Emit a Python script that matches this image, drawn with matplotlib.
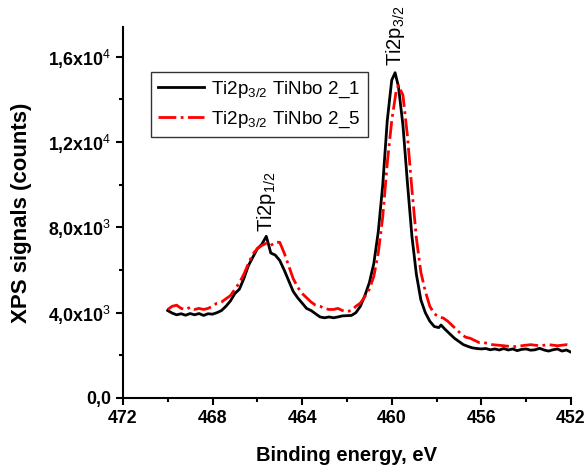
import matplotlib
matplotlib.use("Agg")
import matplotlib.pyplot as plt
from matplotlib.ticker import MultipleLocator, FixedLocator

plt.rcParams['font.family'] = ['Liberation Sans', 'DejaVu Sans']
plt.rcParams['mathtext.fontset'] = 'custom'
plt.rcParams['mathtext.rm'] = 'Liberation Sans'
plt.rcParams['mathtext.it'] = 'Liberation Sans'
plt.rcParams['mathtext.bf'] = 'Liberation Sans:bold'

# Ti2p3/2 TiNbo 2_1
energy_1 = [470.0, 469.8, 469.6, 469.4, 469.2, 469.0, 468.8, 468.6, 468.4, 468.2,
            468.0, 467.8, 467.6, 467.4, 467.2, 467.0, 466.8, 466.6, 466.4, 466.2,
            466.0, 465.8, 465.6, 465.5, 465.4, 465.2, 465.0, 464.8, 464.6, 464.4,
            464.2, 464.0, 463.8, 463.6, 463.4, 463.2, 463.0, 462.8, 462.6, 462.4,
            462.2, 462.0, 461.8, 461.6, 461.4, 461.2, 461.0, 460.8, 460.6, 460.4,
            460.2, 460.0, 459.85, 459.7, 459.5, 459.3, 459.1, 458.9, 458.7, 458.5,
            458.3, 458.1, 457.9, 457.8, 457.6, 457.4, 457.2, 457.0, 456.8, 456.6,
            456.4, 456.2, 456.0, 455.8, 455.6, 455.4, 455.2, 455.0, 454.8, 454.6,
            454.4, 454.2, 454.0, 453.8, 453.6, 453.4, 453.2, 453.0, 452.8, 452.6,
            452.4, 452.2, 452.0]
counts_1 = [4100, 3980, 3900, 3950, 3880, 3960, 3900, 3960, 3870, 3950,
            3930, 4000, 4100, 4300, 4550, 4900, 5100, 5600, 6200, 6600,
            7000, 7200, 7580, 7200, 6800, 6700, 6450, 6000, 5500, 5000,
            4700, 4450, 4200, 4100, 3950, 3800, 3760, 3800, 3760, 3800,
            3850, 3860, 3870, 4000, 4300, 4800, 5400, 6300, 7800, 10000,
            13000, 14900, 15250, 14600, 12800, 10100, 7600, 5800, 4600, 4000,
            3600, 3350, 3300, 3420, 3200, 3000, 2800, 2650, 2500, 2420,
            2350, 2320, 2300, 2320, 2260, 2300, 2250, 2320, 2250, 2300,
            2220, 2280, 2300, 2240, 2260, 2330, 2250, 2200, 2260, 2300,
            2200, 2250, 2150]

# Ti2p3/2 TiNbo 2_5
energy_5 = [470.0, 469.8, 469.6, 469.4, 469.2, 469.0, 468.8, 468.6, 468.4, 468.2,
            468.0, 467.8, 467.6, 467.4, 467.2, 467.0, 466.8, 466.6, 466.4, 466.2,
            466.0, 465.8, 465.6, 465.4, 465.2, 465.0, 464.8, 464.6, 464.4, 464.2,
            464.0, 463.8, 463.6, 463.4, 463.2, 463.0, 462.8, 462.6, 462.4, 462.2,
            462.0, 461.8, 461.6, 461.4, 461.2, 461.0, 460.8, 460.6, 460.4, 460.2,
            460.0, 459.8, 459.7, 459.5, 459.3, 459.1, 458.9, 458.7, 458.5, 458.3,
            458.1, 457.9, 457.7, 457.5, 457.3, 457.1, 456.9, 456.7, 456.5, 456.3,
            456.1, 455.9, 455.7, 455.5, 455.3, 455.0, 454.6, 454.2, 453.8, 453.4,
            453.0, 452.6, 452.2, 452.0]
counts_5 = [4150, 4300, 4350, 4200, 4150, 4250, 4150, 4200, 4150, 4200,
            4300, 4450, 4500, 4650, 4800, 5100, 5400, 5800, 6300, 6750,
            7000, 7150, 7250, 7150, 7300, 7300, 6800, 6200, 5600, 5200,
            4900, 4700, 4500, 4350, 4300, 4200, 4150, 4150, 4200, 4100,
            4050, 4100, 4300, 4450, 4750, 5100, 5700, 6800, 8500, 11000,
            13000, 14400, 14650, 14200, 12300, 9800, 7500, 5900, 5000, 4300,
            3950, 3800, 3750, 3600, 3400, 3200, 3000, 2850, 2800, 2700,
            2600, 2600, 2550, 2500, 2480, 2450, 2400, 2450, 2500, 2450,
            2500, 2450, 2500, 2450]

y_ticks = [0, 4000, 8000, 12000, 16000]
y_ticklabels = ['0,0', '4,0x10$^{3}$', '8,0x10$^{3}$', '1,2x10$^{4}$', '1,6x10$^{4}$']
x_ticks = [472, 468, 464, 460, 456, 452]
x_ticklabels = ['472', '468', '464', '460', '456', '452']

fig = plt.figure(figsize=(5.88, 4.71), dpi=100)
ax = fig.add_axes([0.209, 0.155, 0.762, 0.788])

ax.plot(energy_1, counts_1, color='black', lw=2.0,
        label=r'Ti2p$_{3/2}$ TiNbo 2_1')
ax.plot(energy_5, counts_5, color='red', lw=2.0, linestyle='-.',
        label=r'Ti2p$_{3/2}$ TiNbo 2_5')

ax.set_xlim(472, 452)
ax.set_ylim(0, 17400)

ax.spines['top'].set_visible(False)
ax.spines['right'].set_visible(False)
ax.spines['left'].set_linewidth(1.5)
ax.spines['bottom'].set_linewidth(1.5)

ax.yaxis.set_major_locator(FixedLocator(y_ticks))
ax.set_yticklabels(y_ticklabels, fontweight='bold', fontsize=12.8)
ax.yaxis.set_minor_locator(MultipleLocator(2000))
ax.xaxis.set_major_locator(FixedLocator(x_ticks))
ax.set_xticklabels(x_ticklabels, fontweight='bold', fontsize=12.8)
ax.xaxis.set_minor_locator(MultipleLocator(2))
ax.tick_params(which='major', direction='out', length=5, width=1.5)
ax.tick_params(which='minor', direction='out', length=3, width=1.5)

ax.set_xlabel('Binding energy, eV', fontweight='bold', fontsize=14.5, labelpad=14)
ax.set_ylabel('XPS signals (counts)', fontweight='bold', fontsize=16, labelpad=12)

ax.text(465.6, 7800, r'Ti2p$_{1/2}$', rotation=90, ha='center', va='bottom', fontsize=14.5)
ax.text(459.85, 15550, r'Ti2p$_{3/2}$', rotation=90, ha='center', va='bottom', fontsize=14.5)

leg = ax.legend(loc='upper left', bbox_to_anchor=(0.0625, 0.879), fontsize=13.6,
                frameon=True, fancybox=False, edgecolor='black', borderaxespad=0,
                handlelength=2.4, borderpad=0.4, labelspacing=0.5, handletextpad=0.4)
leg.get_frame().set_linewidth(1.0)

fig.savefig('out.png', dpi=100)
